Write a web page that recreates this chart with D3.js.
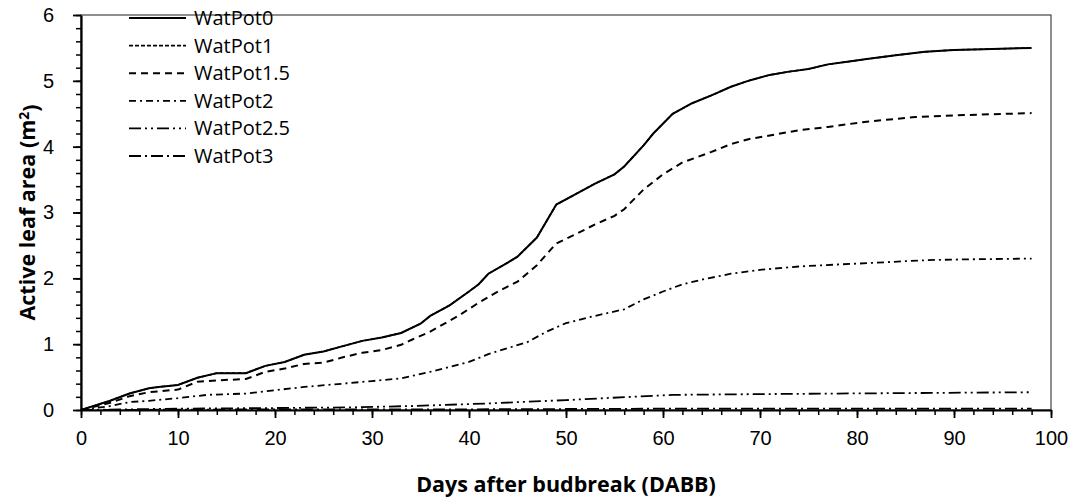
<!DOCTYPE html>
<html>
<head>
<meta charset="utf-8">
<script src="https://cdn.jsdelivr.net/npm/d3@7"></script>
<style>
  body { margin: 0; background: #fff; }
  svg { display: block; font-family: "Open Sans", sans-serif; }
  .tick text { font-size: 20px; fill: #000; }
</style>
</head>
<body>
<div class="chart"></div>
<script>
// series names and days (DABB)
var seriesNames = ["WatPot0", "WatPot1", "WatPot1.5", "WatPot2", "WatPot2.5", "WatPot3"];

var days0 = [0, 3, 5, 7, 8, 10, 12, 14, 17, 19, 21, 23, 25, 27, 29, 31, 33, 35, 36, 38, 40, 41, 42, 44, 45, 47, 49, 51, 53, 55, 56, 58, 59, 61, 63, 65, 67, 69, 71, 73, 75, 77, 79, 81, 84, 87, 90, 93, 98];
var watPot0 = [0, 0.14, 0.25, 0.33, 0.35, 0.38, 0.49, 0.56, 0.56, 0.67, 0.73, 0.84, 0.89, 0.97, 1.05, 1.10, 1.17, 1.31, 1.43, 1.59, 1.80, 1.91, 2.07, 2.24, 2.33, 2.62, 3.12, 3.28, 3.44, 3.58, 3.70, 4.02, 4.20, 4.50, 4.66, 4.78, 4.91, 5.01, 5.09, 5.14, 5.18, 5.25, 5.29, 5.33, 5.39, 5.44, 5.47, 5.48, 5.50];
// WatPot1 lies under WatPot0
var watPot1 = [0, 0.14, 0.25, 0.33, 0.35, 0.38, 0.49, 0.56, 0.56, 0.67, 0.73, 0.84, 0.89, 0.97, 1.05, 1.10, 1.17, 1.31, 1.43, 1.59, 1.80, 1.91, 2.07, 2.24, 2.33, 2.62, 3.12, 3.28, 3.44, 3.58, 3.70, 4.02, 4.20, 4.50, 4.66, 4.78, 4.91, 5.01, 5.09, 5.14, 5.18, 5.25, 5.29, 5.33, 5.39, 5.44, 5.47, 5.48, 5.50];

var days15 = [0, 3, 5, 7, 10, 12, 14, 17, 19, 21, 23, 25, 27, 29, 31, 33, 34, 36, 39, 41, 43, 45, 47, 49, 51, 53, 55, 56, 58, 60, 62, 65, 67, 69, 71, 74, 77, 81, 86, 91, 98];
var watPot15 = [0, 0.11, 0.21, 0.27, 0.31, 0.43, 0.45, 0.47, 0.58, 0.63, 0.70, 0.72, 0.80, 0.87, 0.91, 0.99, 1.06, 1.19, 1.44, 1.63, 1.80, 1.95, 2.20, 2.53, 2.67, 2.82, 2.95, 3.05, 3.35, 3.58, 3.76, 3.92, 4.04, 4.12, 4.17, 4.25, 4.30, 4.38, 4.45, 4.48, 4.51];

var days2 = [0, 3, 5, 7, 10, 13, 17, 20, 23, 27, 30, 33, 36, 40, 42, 44, 46, 48, 50, 53, 56, 58, 60, 62, 64, 67, 70, 74, 78, 81, 85, 88, 92, 98];
var watPot2 = [0, 0.06, 0.12, 0.14, 0.18, 0.23, 0.25, 0.30, 0.35, 0.40, 0.44, 0.48, 0.58, 0.73, 0.85, 0.94, 1.03, 1.19, 1.32, 1.43, 1.53, 1.68, 1.80, 1.91, 1.98, 2.07, 2.13, 2.18, 2.21, 2.23, 2.26, 2.28, 2.29, 2.30];

var days25 = [0, 5, 10, 20, 28, 34, 42, 50, 54, 61, 69, 78, 88, 98];
var watPot25 = [0, 0.01, 0.02, 0.03, 0.04, 0.06, 0.10, 0.15, 0.18, 0.23, 0.24, 0.25, 0.26, 0.27];

var days3 = [0, 20, 40, 60, 80, 98];
var watPot3 = [0, 0.01, 0.01, 0.02, 0.02, 0.02];

var xTicks = [0, 10, 20, 30, 40, 50, 60, 70, 80, 90, 100];
var yTicks = [0, 1, 2, 3, 4, 5, 6];

var dashes = ["none", "4,2", "7,5", "7,4,2,4", "12,4,2,4,2,4", "12,4,2,4"];
var widths = [2, 1.6, 2, 1.8, 1.8, 1.8];

function pairs(days, vals) {
  return days.map(function (d, i) { return { day: d, val: vals[i] }; });
}
var allSeries = [
  pairs(days0, watPot0),
  pairs(days0, watPot1),
  pairs(days15, watPot15),
  pairs(days2, watPot2),
  pairs(days25, watPot25),
  pairs(days3, watPot3)
];

var svgWidth = 1074, svgHeight = 501;
var margin = { top: 15, right: 23, bottom: 91, left: 81 };
var width = svgWidth - margin.left - margin.right;
var height = svgHeight - margin.top - margin.bottom;

var svg = d3.select(".chart").append("svg")
  .attr("width", svgWidth)
  .attr("height", svgHeight);

var chartGroup = svg.append("g")
  .attr("transform", `translate(${margin.left}, ${margin.top})`);

var xScale = d3.scaleLinear().domain([0, 100]).range([0, width]);
var yScale = d3.scaleLinear().domain([0, 6]).range([height, 0]);

// frame (top / right)
chartGroup.append("rect")
  .attr("x", 0).attr("y", 0)
  .attr("width", width).attr("height", height)
  .attr("fill", "none")
  .attr("stroke", "#444")
  .attr("stroke-width", 1.2);

// lines
var line = d3.line()
  .x(d => xScale(d.day))
  .y(d => yScale(d.val));

// draw WatPot1 first so WatPot0 sits on top
var order = [1, 5, 4, 3, 2, 0];
order.forEach(function (i) {
  chartGroup.append("path")
    .datum(allSeries[i])
    .attr("fill", "none")
    .attr("stroke", "#000")
    .attr("stroke-width", widths[i])
    .attr("stroke-dasharray", dashes[i])
    .attr("d", line);
});

// minor ticks
chartGroup.append("g")
  .attr("transform", `translate(0, ${height})`)
  .call(d3.axisBottom(xScale).tickValues(d3.range(0, 101, 2)).tickSize(5).tickFormat(""))
  .call(g => g.select(".domain").remove())
  .selectAll("line").attr("stroke-width", 1.5);

chartGroup.append("g")
  .call(d3.axisLeft(yScale).tickValues(d3.range(0, 31).map(v => v / 5)).tickSize(5).tickFormat(""))
  .call(g => g.select(".domain").remove())
  .selectAll("line").attr("stroke-width", 1.5);

// major axes
var xAxis = chartGroup.append("g")
  .attr("transform", `translate(0, ${height})`)
  .call(d3.axisBottom(xScale).tickValues(xTicks).tickSize(8).tickSizeOuter(0).tickPadding(13).tickFormat(d3.format("d")));
xAxis.select(".domain").attr("stroke-width", 2.2);
xAxis.selectAll("line").attr("stroke-width", 1.8);

var yAxis = chartGroup.append("g")
  .call(d3.axisLeft(yScale).tickValues(yTicks).tickSize(8).tickSizeOuter(0).tickPadding(19).tickFormat(d3.format("d")));
yAxis.select(".domain").attr("stroke-width", 2.2);
yAxis.selectAll("line").attr("stroke-width", 1.8);

// legend
var legend = chartGroup.append("g").attr("transform", "translate(48, 3)");
seriesNames.forEach(function (name, i) {
  var row = legend.append("g").attr("transform", `translate(0, ${i * 27.6})`);
  row.append("line")
    .attr("x1", 0).attr("x2", 57)
    .attr("y1", 0).attr("y2", 0)
    .attr("stroke", "#000")
    .attr("stroke-width", widths[i])
    .attr("stroke-dasharray", dashes[i]);
  row.append("text")
    .attr("x", 65).attr("y", 0)
    .attr("dy", "0.35em")
    .attr("font-size", "20px")
    .attr("fill", "#000")
    .text(name);
});

// axis labels
chartGroup.append("text")
  .attr("x", width / 2)
  .attr("y", height + 82)
  .attr("text-anchor", "middle")
  .attr("font-size", "21.5px")
  .attr("font-weight", "bold")
  .text("Days after budbreak (DABB)");

var yLabel = chartGroup.append("text")
  .attr("transform", "rotate(-90)")
  .attr("x", -height / 2)
  .attr("y", -46)
  .attr("text-anchor", "middle")
  .attr("font-size", "21.5px")
  .attr("font-weight", "bold");
yLabel.append("tspan").text("Active leaf area (m");
yLabel.append("tspan").attr("dy", "-0.45em").attr("font-size", "14px").text("2");
yLabel.append("tspan").attr("dy", "0.45em").text(")");
</script>
</body>
</html>
